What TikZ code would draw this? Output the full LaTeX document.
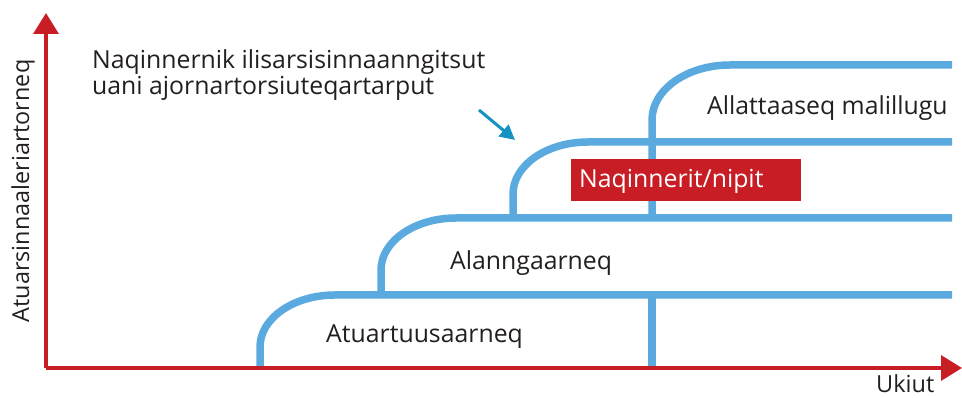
\documentclass[tikz,border=0pt]{standalone}
\usepackage{fontspec}
\setmainfont{Open Sans}
\usetikzlibrary{arrows.meta}
\definecolor{axisred}{HTML}{C81D25}
\definecolor{stepblue}{HTML}{5BAADF}
\definecolor{teal}{HTML}{1592C2}
\definecolor{txt}{HTML}{231F20}
\begin{document}
\begin{tikzpicture}[x=1pt,y=1pt,
  axis/.style={draw=axisred,line width=3.5pt,-{Triangle[width=25pt,length=21pt]}},
  stepline/.style={draw=stepblue,line width=7.5pt},
  lbl/.style={font=\fontsize{24.8}{28}\selectfont,text=txt,inner sep=0pt,anchor=base west}]
\useasboundingbox (0,0) rectangle (962,398);
% steps
\draw[stepline] (260,30) -- (260,51) arc[start angle=180,end angle=90,x radius=75pt,y radius=52pt] -- (952,103);
\draw[stepline] (381,103) -- (381,128) arc[start angle=180,end angle=90,x radius=75pt,y radius=52pt] -- (952,180);
\draw[stepline] (513,180) -- (513,204) arc[start angle=180,end angle=90,x radius=75pt,y radius=52pt] -- (952,256);
\draw[stepline] (652,180) -- (652,278) arc[start angle=180,end angle=90,x radius=78pt,y radius=55pt] -- (952,333);
\draw[stepline] (652,30) -- (652,103);
% axes
\coordinate (o) at (46,30);
\coordinate (ytip) at (46,385);
\coordinate (xtip) at (962,30);
\draw[axis] (o) -- (ytip);
\draw[axis] (o) -- (xtip);
% red box
\node[fill=axisred,minimum width=230pt,minimum height=42pt,inner sep=0pt] (box) at (686,218) {};
\node[lbl,text=white] (nq) at (579,210) {Naqinnerit/nipit};
% labels
\node[lbl] (t1) at (92,329) {Naqinnernik ilisarsisinnaanngitsut};
\node[lbl] (t2) at (92,303) {uani ajornartorsiuteqartarput};
\node[lbl] (al) at (707,283) {Allattaaseq malillugu};
\node[lbl] (an) at (450,128) {Alanngaarneq};
\node[lbl] (at) at (326,55) {Atuartuusaarneq};
\node[lbl,font=\fontsize{23.5}{27}\selectfont] (uk) at (876,5) {Ukiut};
\node[font=\fontsize{23.4}{27}\selectfont,text=txt,inner sep=0pt,rotate=90] (va) at (23,207) {Atuarsinnaaleriartorneq};
% teal arrow
\coordinate (as) at (479,288);
\coordinate (ae) at (515,258);
\draw[teal,line width=3pt,-{Triangle[width=15pt,length=15pt]}] (as) -- (ae);
\end{tikzpicture}
\end{document}
